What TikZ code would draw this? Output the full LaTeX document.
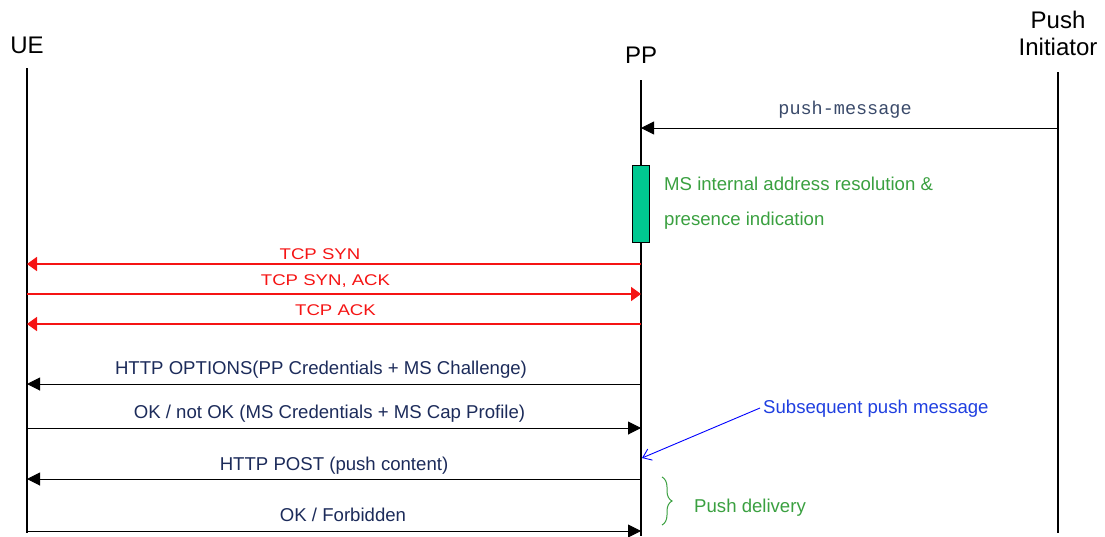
\documentclass[tikz,border=0pt]{standalone}
\usepackage{fontspec}
\setmainfont{Liberation Sans}
\setmonofont{Liberation Mono}
\newfontfamily\tcpfont[FakeStretch=1.2]{Liberation Sans}
\usetikzlibrary{arrows.meta,decorations.pathreplacing}
\definecolor{navy}{HTML}{1C2B5A}
\definecolor{pmsg}{HTML}{3A4A6A}
\definecolor{grn}{HTML}{3AA040}
\definecolor{boxfill}{HTML}{00C891}
\definecolor{tcpred}{HTML}{F51414}
\definecolor{blu}{HTML}{1F3FE0}
\tikzset{
  life/.style={line width=1.1pt, black},
  msg/.style={line width=1pt, -{Triangle[length=13pt,width=13pt]}},
  tcp/.style={line width=1.8pt, tcpred, -{Triangle[length=10pt,width=14pt]}},
  hdr/.style={font=\fontsize{24}{27}\selectfont, align=center, inner sep=0pt},
  lbl/.style={font=\fontsize{18.6}{22}\selectfont, text=navy, inner sep=0pt, anchor=base},
  tlbl/.style={font=\tcpfont\fontsize{15.5}{18}\selectfont, text=tcpred, inner sep=0pt, anchor=base},
  gtxt/.style={font=\fontsize{18.6}{22}\selectfont, text=grn, inner sep=0pt, anchor=base west},
}
\begin{document}
\begin{tikzpicture}[x=1pt,y=-1pt]
\useasboundingbox (0,0) rectangle (1105,536);
% headers
\node[hdr] (ue) at (27,45) {UE};
\node[hdr] (pp) at (641,55) {PP};
\node[hdr] (pi) at (1058,33) {Push\\Initiator};
% lifelines
\coordinate (ueT) at (27,68); \coordinate (ueB) at (27,533);
\coordinate (ppT) at (641,80); \coordinate (ppB) at (641,536);
\coordinate (piT) at (1058,72); \coordinate (piB) at (1058,533);
\draw[life] (ueT) -- (ueB);
\draw[life] (ppT) -- (ppB);
\draw[life] (piT) -- (piB);
% push-message
\coordinate (pi1) at (1058,128); \coordinate (pp1) at (641,128);
\draw[msg] (pi1) -- (pp1);
\node[font=\ttfamily\fontsize{18.5}{21}\selectfont, text=pmsg, anchor=base, inner sep=0pt] (pmL) at (845,114) {push-message};
% activation box
\node[draw=black, line width=1pt, fill=boxfill, minimum width=17pt, minimum height=77pt, inner sep=0pt] (act) at (641,203.5) {};
\node[gtxt] (g1) at (664,190) {MS internal address resolution \&};
\node[gtxt] (g2) at (664,225) {presence indication};
% TCP
\coordinate (pp2) at (641,264); \coordinate (ue2) at (27,264);
\draw[tcp] (pp2) -- (ue2);
\node[tlbl] (t1) at (320,259) {TCP SYN};
\coordinate (ue3) at (27,294); \coordinate (pp3) at (641,294);
\draw[tcp] (ue3) -- (pp3);
\node[tlbl] (t2) at (325.5,285) {TCP SYN, ACK};
\coordinate (pp4) at (641,324); \coordinate (ue4) at (27,324);
\draw[tcp] (pp4) -- (ue4);
\node[tlbl] (t3) at (335.5,315) {TCP ACK};
% HTTP
\coordinate (pp5) at (641,384); \coordinate (ue5) at (27,384);
\draw[msg] (pp5) -- (ue5);
\node[lbl] (h1) at (321,374) {HTTP OPTIONS(PP Credentials + MS Challenge)};
\coordinate (ue6) at (27,428); \coordinate (pp6) at (641,428);
\draw[msg] (ue6) -- (pp6);
\node[lbl] (h2) at (329.5,418) {OK / not OK (MS Credentials + MS Cap Profile)};
\coordinate (pp7) at (641,479); \coordinate (ue7) at (27,479);
\draw[msg] (pp7) -- (ue7);
\node[lbl] (h3) at (334,470) {HTTP POST (push content)};
\coordinate (ue8) at (27,531); \coordinate (pp8) at (641,531);
\draw[msg] (ue8) -- (pp8);
\node[lbl] (h4) at (343,521) {OK / Forbidden};
% subsequent push
\node[font=\fontsize{18.6}{22}\selectfont, text=blu, anchor=base west, inner sep=0pt] (sub) at (763,413) {Subsequent push message};
\coordinate (subS) at (760,408); \coordinate (subE) at (642,458);
\draw[blue, line width=0.9pt, -{Straight Barb[length=8pt,width=12pt]}] (subS) -- (subE);
% brace
\coordinate (brT) at (662,477); \coordinate (brB) at (662,525);
\draw[grn, line width=1pt, decorate, decoration={brace, amplitude=10pt}] (brT) -- (brB);
\node[gtxt] (pd) at (694,512) {Push delivery};
\end{tikzpicture}
\end{document}
